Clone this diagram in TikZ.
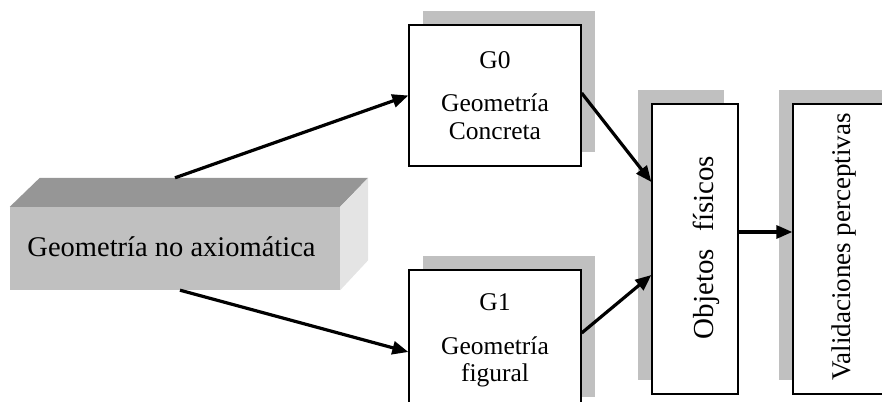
\documentclass[tikz,border=0pt]{standalone}
\usepackage{fontspec}
\setmainfont{Liberation Serif}
\usetikzlibrary{arrows.meta,calc,shadows}
\definecolor{facefront}{HTML}{C0C0C0}
\definecolor{facetop}{HTML}{969696}
\definecolor{faceside}{HTML}{E4E4E4}
\definecolor{shadegray}{HTML}{C0C0C0}
\begin{document}
\begin{tikzpicture}[x=1pt,y=1pt,
  flow/.style={line width=3.2pt,-{Triangle[length=16pt,width=13pt]}},
  card/.style={draw=black,line width=1.3pt,fill=white,inner sep=0pt,align=center,
    font=\fontsize{25.5}{27.5}\selectfont},
  shadeR/.style={general shadow={fill=shadegray,draw=none,shadow xshift=14pt,shadow yshift=14pt}},
  shadeL/.style={general shadow={fill=shadegray,draw=none,shadow xshift=-14pt,shadow yshift=14pt}},
  vtext/.style={rotate=90,anchor=base,inner sep=0pt,font=\fontsize{29}{31}\selectfont}
]
\useasboundingbox (0,0) rectangle (882,401);
\clip (0,0) rectangle (882,401);

% solid block with front, top and side faces
\node[fill=facefront, minimum width=330pt, minimum height=83pt, inner sep=0pt] (base) at (175,152.5) {};
\fill[facetop] (base.north west) -- (base.north east) -- ++(28,29)
  -- ($(base.north west)+(30,29)$) -- cycle;
\fill[faceside] (base.north east) -- ++(28,29) -- ($(base.south east)+(28,30)$)
  -- (base.south east) -- cycle;
\node[anchor=base, inner sep=0pt, font=\fontsize{28.5}{30}\selectfont] (basetext)
  at (171.5,144) {Geometría no axiomática};
\coordinate (basetop) at ($(base.north)+(0,29)$);

% geometry levels
\node[card, shadeR, minimum width=172pt, minimum height=141pt] (g0) at (495,305.5)
  {G0\\[16pt]Geometría\\Concreta};
\node[card, shadeR, minimum width=172pt, minimum height=141pt] (g1) at (495,60.5)
  {G1\\[16pt]Geometría\\figural};

% tall boxes
\node[card, shadeL, minimum width=86pt, minimum height=290pt] (obj) at (695,152) {};
\node[card, shadeL, minimum width=107pt, minimum height=290pt] (val) at (846.5,152) {};
\node[vtext] (objtext) at (713,153.5) {Objetos\hspace{0.6em}físicos};
\node[vtext, font=\fontsize{27}{29}\selectfont] (valtext) at (850,154) {Validaciones perceptivas};

% connectors
\draw[flow] (basetop) -- (g0.west);
\draw[flow] ([xshift=5pt]base.south) -- ([yshift=-11.5pt]g1.west);
\draw[flow] ([yshift=2.5pt]g0.east) -- ([yshift=67pt]obj.west);
\draw[flow] ([yshift=7.5pt]g1.east) -- ([yshift=-26pt]obj.west);
\draw[flow] ([yshift=17pt]obj.east) -- ([yshift=17pt]val.west);
\end{tikzpicture}
\end{document}
